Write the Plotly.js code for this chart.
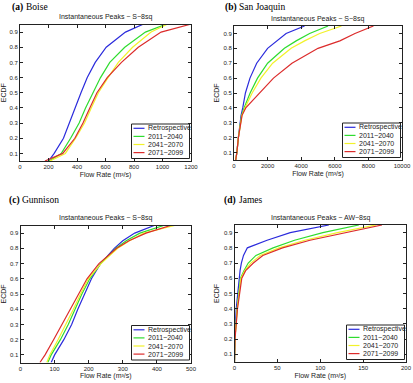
<!DOCTYPE html>
<html><head><meta charset="utf-8">
<script src="https://cdn.plot.ly/plotly-3.0.1.min.js"></script>
<style>html,body{margin:0;padding:0;background:#fff}#chart{width:413px;height:383px}</style>
</head><body><div id="chart"></div>
<script>
// ---- Data ----
const seriesNames = ['Retrospective', '2011\u22122040', '2041\u22122070', '2071\u22122099'];
const seriesColors = ['#2b2bdc', '#2fdc2f', '#f2f22a', '#dc2b2b'];
const yTickVals = [0.1, 0.2, 0.3, 0.4, 0.5, 0.6, 0.7, 0.8, 0.9];
const yTickText = ['0.1', '0.2', '0.3', '0.4', '0.5', '0.6', '0.7', '0.8', '0.9'];
const panelLabels = ['(a)', '(b)', '(c)', '(d)'];
const panelNames = ['Boise', 'San Joaquin', 'Gunnison', 'James'];
const panelTitles = ['Instantaneous Peaks \u2212 S\u22128sq', 'Instantaneous Peaks \u2212 S\u22128sq',
                     'Instantaneous Peaks \u2212 S\u22128sq', 'Instantaneous Peaks \u2212 AW\u22128sq'];
const xTitle = 'Flow Rate (m\u00B3/s)';
const yTitle = 'ECDF';
const xMax = [1200, 10000, 500, 200];
const xTickStep = [200, 2000, 100, 50];

// (a) Boise
const boiseEcdf  = [0.05, 0.1, 0.2, 0.3, 0.4, 0.5, 0.6, 0.7, 0.8, 0.9, 0.95];
const boiseRetro = [200, 240, 305, 345, 390, 428, 472, 528, 605, 740, 860];
const boise2011  = [205, 290, 355, 415, 460, 510, 565, 630, 735, 880, 1020];
const boise2041  = [210, 318, 390, 453, 500, 550, 618, 690, 790, 920, 1030];
const boise2071  = [175, 300, 385, 442, 490, 540, 612, 712, 830, 990, 1190];

// (b) San Joaquin
const sjEcdf  = [0.05, 0.1, 0.2, 0.3, 0.35, 0.4, 0.5, 0.6, 0.7, 0.8, 0.85, 0.9, 0.95];
const sjRetro = [100, 170, 260, 350, 420, 520, 680, 950, 1350, 2000, 2550, 3100, 4200];
const sj2011  = [100, 170, 260, 360, 450, 600, 960, 1400, 2000, 3000, 3700, 4500, 5600];
const sj2041  = [100, 170, 260, 370, 470, 650, 1080, 1600, 2300, 3400, 4200, 5100, 6400];
const sj2071  = [100, 170, 260, 390, 480, 700, 1500, 2350, 3450, 5000, 6300, 7200, 8300];

// (c) Gunnison
const gunEcdf  = [0.05, 0.1, 0.2, 0.3, 0.4, 0.5, 0.6, 0.7, 0.8, 0.85, 0.9, 0.95];
const gunRetro = [90, 100, 127, 150, 168, 187, 208, 235, 275, 300, 335, 392];
const gun2011  = [80, 90, 117, 140, 160, 180, 203, 235, 280, 310, 350, 420];
const gun2041  = [77, 86, 110, 133, 155, 176, 199, 236, 285, 320, 362, 452];
const gun2071  = [57, 72, 97, 122, 147, 170, 195, 230, 282, 318, 368, 440];

// (d) James
const jamesEcdf  = [0.05, 0.2, 0.4, 0.6, 0.65, 0.7, 0.75, 0.8, 0.85, 0.9, 0.95];
const jamesRetro = [0, 0.4, 2, 5, 6.5, 8, 10.5, 15, 38, 65, 110];
const james2011  = [0, 0.5, 3, 7, 11, 16, 25, 45, 70, 103, 145];
const james2041  = [0, 0.5, 3.2, 7.5, 12, 19, 30, 52, 82, 120, 165];
const james2071  = [0, 0.6, 3.5, 8.5, 13, 22, 33, 56, 88, 128, 172];

const panelData = [
  {ecdf: boiseEcdf, series: [boiseRetro, boise2011, boise2041, boise2071]},
  {ecdf: sjEcdf, series: [sjRetro, sj2011, sj2041, sj2071]},
  {ecdf: gunEcdf, series: [gunRetro, gun2011, gun2041, gun2071]},
  {ecdf: jamesEcdf, series: [jamesRetro, james2011, james2041, james2071]}
];

// ---- Layout geometry (pixels) ----
const W = 413, H = 383;
const boxes = [[20, 191, 24.5, 161], [234, 402, 26, 160], [20.5, 191, 225.5, 362.5], [234.5, 406, 225, 362]];
const titleY = [17, 19.3, 218.3, 218.3];
const labelPos = [[10, 0.5], [223, 0.5], [7, 200], [222.5, 200]];
const labelGap = [13.5, 14, 13, 14];
const labelAnchor = ['top', 'top', 'middle', 'middle'];
const px = x => x / W;
const py = y => 1 - y / H;

const sans = 'Liberation Sans, Arial, Helvetica, sans-serif';
const serif = 'Liberation Serif, Times New Roman, serif';
const ink = '#222';

const traces = [];
const layout = {
  width: W, height: H, margin: {l: 0, r: 0, t: 0, b: 0},
  paper_bgcolor: '#fff', plot_bgcolor: '#fff', showlegend: false,
  annotations: [], shapes: []
};

panelData.forEach((p, i) => {
  const n = i === 0 ? '' : String(i + 1);
  const [l, r, t, b] = boxes[i];
  p.series.forEach((xs, s) => {
    traces.push({
      type: 'scatter', mode: 'lines', x: xs, y: p.ecdf, name: seriesNames[s],
      xaxis: 'x' + n, yaxis: 'y' + n,
      line: {color: seriesColors[s], width: 1.2}, hoverinfo: 'skip'
    });
  });
  const common = {
    ticks: 'inside', ticklen: 3, tickcolor: ink, tickwidth: 1, mirror: 'ticks',
    showline: true, linecolor: ink, linewidth: 1, showgrid: false, zeroline: false,
    tickfont: {size: 6, family: sans, color: ink}, fixedrange: true
  };
  layout['xaxis' + n] = Object.assign({}, common, {
    domain: [px(l), px(r)], range: [0, xMax[i]], anchor: 'y' + n,
    tickmode: 'linear', tick0: 0, dtick: xTickStep[i], tickformat: 'd',
    title: {text: xTitle, font: {size: 7, family: sans, color: ink}, standoff: 2}
  });
  layout['yaxis' + n] = Object.assign({}, common, {
    domain: [py(b), py(t)], range: [0.05, 0.95], anchor: 'x' + n,
    tickmode: 'array', tickvals: yTickVals, ticktext: yTickText,
    title: {text: yTitle, font: {size: 7, family: sans, color: ink}, standoff: 3}
  });
  // subplot title
  layout.annotations.push({
    xref: 'paper', yref: 'paper', x: px((l + r) / 2), y: py(titleY[i]),
    text: panelTitles[i], showarrow: false, xanchor: 'center', yanchor: 'middle',
    font: {size: 7, family: sans, color: ink}
  });
  // panel label: bold letter + regular name
  layout.annotations.push({
    xref: 'paper', yref: 'paper', x: px(labelPos[i][0]), y: py(labelPos[i][1]),
    text: panelLabels[i], showarrow: false,
    xanchor: 'left', yanchor: labelAnchor[i], font: {size: 9.5, family: serif, color: '#000', weight: 'bold'}
  });
  layout.annotations.push({
    xref: 'paper', yref: 'paper', x: px(labelPos[i][0] + labelGap[i]), y: py(labelPos[i][1]),
    text: panelNames[i], showarrow: false,
    xanchor: 'left', yanchor: labelAnchor[i], font: {size: 9.5, family: serif, color: '#000'}
  });
  // legend box
  const lr = r - 1.5, lb = b - 2.5, lw = 58, lh = 34.5;
  const ll = lr - lw, lt = lb - lh;
  layout.shapes.push({
    type: 'rect', xref: 'paper', yref: 'paper', x0: px(ll), x1: px(lr), y0: py(lb), y1: py(lt),
    line: {color: ink, width: 1}, fillcolor: '#fff', layer: 'above'
  });
  seriesNames.forEach((name, s) => {
    const cy = lt + 4.3 + s * 8.1;
    layout.shapes.push({
      type: 'line', xref: 'paper', yref: 'paper', x0: px(ll + 2), x1: px(ll + 13), y0: py(cy), y1: py(cy),
      line: {color: seriesColors[s], width: 1.2}, layer: 'above'
    });
    layout.annotations.push({
      xref: 'paper', yref: 'paper', x: px(ll + 14.5), y: py(cy), text: name, showarrow: false,
      xanchor: 'left', yanchor: 'middle', font: {size: 7, family: sans, color: ink}
    });
  });
});

Plotly.newPlot('chart', traces, layout, {staticPlot: true, displayModeBar: false});
</script></body></html>
